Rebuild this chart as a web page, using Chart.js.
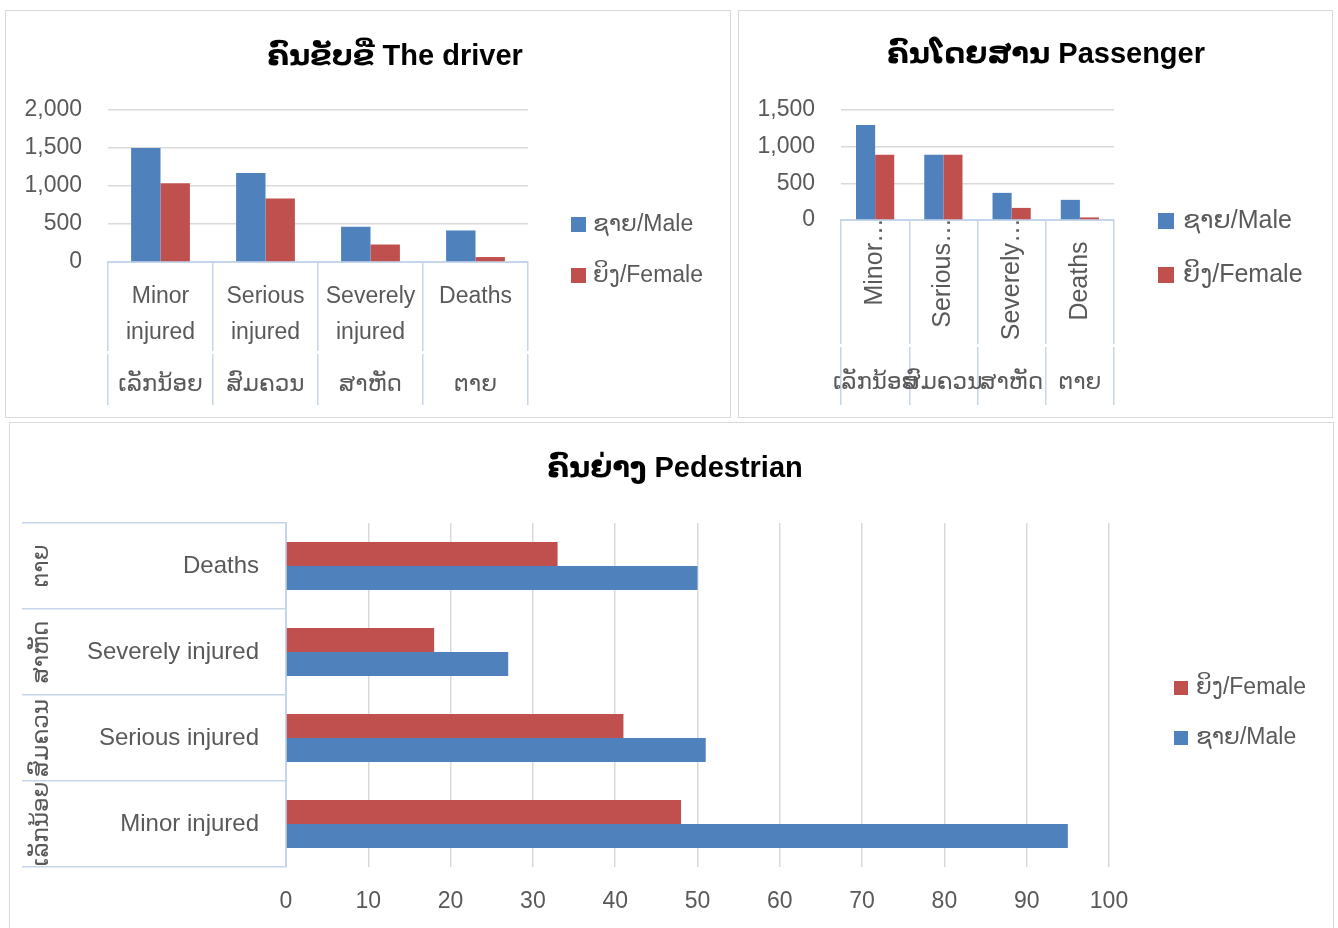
<!DOCTYPE html>
<html>
<head>
<meta charset="utf-8">
<script src="https://cdn.jsdelivr.net/npm/chart.js@4.4.1/dist/chart.umd.min.js"></script>
<style>
  body { margin: 0; background: #fff; width: 1338px; height: 928px; overflow: hidden; position: relative; }
  .panel { position: absolute; border: 1px solid #d9d9d9; background: #fff; }
  .panel canvas { position: absolute; left: 0; top: 0; }
  .title { position: absolute; width: 700px; text-align: center; font: bold 29px 'Liberation Sans', Arial, 'DejaVu Sans', sans-serif; color: #000; line-height: 34px; white-space: nowrap; }
</style>
</head>
<body>
<div class="panel" style="left:5px; top:10px; width:724px; height:406px;"><canvas id="driver" width="724" height="406"></canvas></div>
<div class="panel" style="left:738px; top:10px; width:593px; height:406px;"><canvas id="passenger" width="593" height="406"></canvas></div>
<div class="panel" style="left:9px; top:422px; width:1323px; height:520px;"><canvas id="pedestrian" width="1323" height="505"></canvas></div>
<div class="title" style="left:45px; top:38px;">ຄົນຂັບຂີ່ The driver</div>
<div class="title" style="left:696px; top:36px;">ຄົນໂດຍສານ Passenger</div>
<div class="title" style="left:325px; top:450px;">ຄົນຍ່າງ Pedestrian</div>

<script>
// --- data ---
const categoriesEn = ['Minor injured', 'Serious injured', 'Severely injured', 'Deaths'];
const categoriesLo = ['ເລັກນ້ອຍ', 'ສົມຄວນ', 'ສາຫັດ', 'ຕາຍ'];
const labelMale = 'ຊາຍ/Male';
const labelFemale = 'ຍິງ/Female';

const driverMale = [1500, 1170, 465, 415];
const driverFemale = [1035, 835, 230, 65];
const driverTicks = [0, 2000, 500];     // min, max, step

const passengerMale = [1295, 890, 370, 275];
const passengerFemale = [890, 890, 165, 35];
const passengerTicks = [0, 1500, 500];

const pedestrianMale = [95, 51, 27, 50];
const pedestrianFemale = [48, 41, 18, 33];
const pedestrianTicks = [0, 100, 10];

// --- look ---
const FONT = "'Liberation Sans', Arial, 'DejaVu Sans', sans-serif";
const BLUE = '#4f81bd';
const RED = '#c0504d';
const TEXT = '#595959';
const GRID = '#d9d9d9';
const AXIS = '#c5d5ea';

Chart.defaults.font.family = FONT;
Chart.defaults.color = TEXT;

// category labels drawn under / beside the axis (two levels: English + Lao)
const catLabels = {
  id: 'catLabels',
  afterDraw(chart, args, o) {
    const ctx = chart.ctx;
    const scale = chart.scales[o.axis];
    const area = chart.chartArea;
    ctx.save();
    if (o.gapY) {
      ctx.fillStyle = '#fff';
      ctx.fillRect(area.left - 2, o.gapY, area.width + 4, 3);
    }
    ctx.fillStyle = TEXT;
    categoriesEn.forEach((name, i) => {
      const p = scale.getPixelForTick(i);
      const lao = categoriesLo[i];
      if (o.mode === 'wrap') {
        ctx.font = o.size + 'px ' + FONT;
        ctx.textAlign = 'center';
        ctx.textBaseline = 'middle';
        name.split(' ').forEach((w, k) => ctx.fillText(w, p, o.lineY + k * o.lineGap));
        ctx.fillText(lao, p, o.laoY);
      } else if (o.mode === 'rotate') {
        // long names are cut to the first word and hang from the axis; short ones sit centred
        const words = name.split(' ');
        const cut = words.length > 1;
        ctx.save();
        ctx.translate(p, cut ? o.endY : o.midY);
        ctx.rotate(-Math.PI / 2);
        ctx.font = o.size + 'px ' + FONT;
        ctx.textAlign = cut ? 'right' : 'center';
        ctx.textBaseline = 'middle';
        ctx.fillText(cut ? words[0] + '…' : name, 0, 0);
        ctx.restore();
        ctx.font = o.laoSize + 'px ' + FONT;
        ctx.textAlign = 'center';
        ctx.textBaseline = 'middle';
        ctx.fillText(lao, p, o.laoY);
      } else {
        ctx.font = o.size + 'px ' + FONT;
        ctx.textAlign = 'right';
        ctx.textBaseline = 'middle';
        ctx.fillText(name, o.textX, p);
        ctx.save();
        ctx.translate(o.laoX, p);
        ctx.rotate(-Math.PI / 2);
        ctx.font = o.laoSize + 'px ' + FONT;
        ctx.textAlign = 'center';
        ctx.fillText(lao, 0, 0);
        ctx.restore();
      }
    });
    ctx.restore();
  }
};

// legend to the right of the plot
const sideLegend = {
  id: 'sideLegend',
  afterDraw(chart, args, o) {
    const ctx = chart.ctx;
    ctx.save();
    ctx.font = o.size + 'px ' + FONT;
    ctx.textAlign = 'left';
    ctx.textBaseline = 'middle';
    chart.data.datasets.forEach((ds, k) => {
      const y = o.y + k * o.gap;
      ctx.fillStyle = ds.backgroundColor;
      ctx.fillRect(o.x, y - o.box / 2, o.box, o.box);
      ctx.fillStyle = TEXT;
      ctx.fillText(ds.label, o.x + o.box + o.textGap, y);
    });
    ctx.restore();
  }
};

function baseOptions() {
  return {
    responsive: false,
    animation: false,
    devicePixelRatio: 1,
    locale: 'en-US',
    events: [],
    datasets: { bar: { categoryPercentage: 0.56, barPercentage: 1 } },
  };
}

// --- driver ---
new Chart(document.getElementById('driver'), {
  type: 'bar',
  data: {
    labels: categoriesEn,
    datasets: [
      { label: labelMale, data: driverMale, backgroundColor: BLUE },
      { label: labelFemale, data: driverFemale, backgroundColor: RED }
    ]
  },
  options: Object.assign(baseOptions(), {
    layout: { padding: { top: 99, right: 202, bottom: 12, left: 0 } },
    plugins: {
      legend: { display: false }, title: { display: false }, tooltip: { enabled: false },
      catLabels: { axis: 'x', mode: 'wrap', size: 23, lineY: 286, lineGap: 36, laoY: 374, gapY: 340 },
      sideLegend: { x: 565, y: 213.5, gap: 51, box: 15, textGap: 7, size: 23 }
    },
    scales: {
      x: {
        ticks: { display: false },
        grid: { drawOnChartArea: false, tickLength: 143, color: AXIS, lineWidth: 1.5 },
        border: { color: AXIS, width: 2 },
        afterFit: s => { s.height = 143; }
      },
      y: {
        min: driverTicks[0], max: driverTicks[1],
        ticks: { stepSize: driverTicks[2], padding: 26, font: { size: 23 }, color: TEXT },
        grid: { drawTicks: false, color: GRID, lineWidth: 1.5 },
        border: { display: false },
        afterFit: s => { s.width = 102; }
      }
    }
  }),
  plugins: [catLabels, sideLegend]
});

// --- passenger ---
new Chart(document.getElementById('passenger'), {
  type: 'bar',
  data: {
    labels: categoriesEn,
    datasets: [
      { label: labelMale, data: passengerMale, backgroundColor: BLUE },
      { label: labelFemale, data: passengerFemale, backgroundColor: RED }
    ]
  },
  options: Object.assign(baseOptions(), {
    layout: { padding: { top: 99, right: 218, bottom: 12, left: 0 } },
    plugins: {
      legend: { display: false }, title: { display: false }, tooltip: { enabled: false },
      catLabels: { axis: 'x', mode: 'rotate', size: 25, endY: 207, midY: 270, laoSize: 23, laoY: 372, gapY: 333 },
      sideLegend: { x: 419, y: 210, gap: 54, box: 16, textGap: 9, size: 25 }
    },
    scales: {
      x: {
        ticks: { display: false },
        grid: { drawOnChartArea: false, tickLength: 185, color: AXIS, lineWidth: 1.5 },
        border: { color: AXIS, width: 2 },
        afterFit: s => { s.height = 185; }
      },
      y: {
        min: passengerTicks[0], max: passengerTicks[1],
        ticks: { stepSize: passengerTicks[2], padding: 26, font: { size: 23 }, color: TEXT },
        grid: { drawTicks: false, color: GRID, lineWidth: 1.5 },
        border: { display: false },
        afterFit: s => { s.width = 102; }
      }
    }
  }),
  plugins: [catLabels, sideLegend]
});

// --- pedestrian (horizontal, female listed first) ---
new Chart(document.getElementById('pedestrian'), {
  type: 'bar',
  data: {
    labels: categoriesEn,
    datasets: [
      { label: labelFemale, data: pedestrianFemale, backgroundColor: RED },
      { label: labelMale, data: pedestrianMale, backgroundColor: BLUE }
    ]
  },
  options: Object.assign(baseOptions(), {
    indexAxis: 'y',
    layout: { padding: { top: 100, right: 224, bottom: 0, left: 0 } },
    plugins: {
      legend: { display: false }, title: { display: false }, tooltip: { enabled: false },
      catLabels: { axis: 'y', mode: 'side', size: 24, laoSize: 23, textX: 249, laoX: 32 },
      sideLegend: { x: 1164, y: 265, gap: 50, box: 14, textGap: 8, size: 23 }
    },
    scales: {
      y: {
        reverse: true,
        ticks: { display: false },
        grid: { drawOnChartArea: false, tickLength: 264, color: AXIS, lineWidth: 1.5 },
        border: { color: AXIS, width: 2 },
        afterFit: s => { s.width = 276; }
      },
      x: {
        min: pedestrianTicks[0], max: pedestrianTicks[1],
        ticks: { stepSize: pedestrianTicks[2], padding: 21, font: { size: 23 }, color: TEXT },
        grid: { drawTicks: false, color: GRID, lineWidth: 1.5 },
        border: { display: false },
        afterFit: s => { s.height = 61; }
      }
    }
  }),
  plugins: [catLabels, sideLegend]
});
</script>
</body>
</html>
